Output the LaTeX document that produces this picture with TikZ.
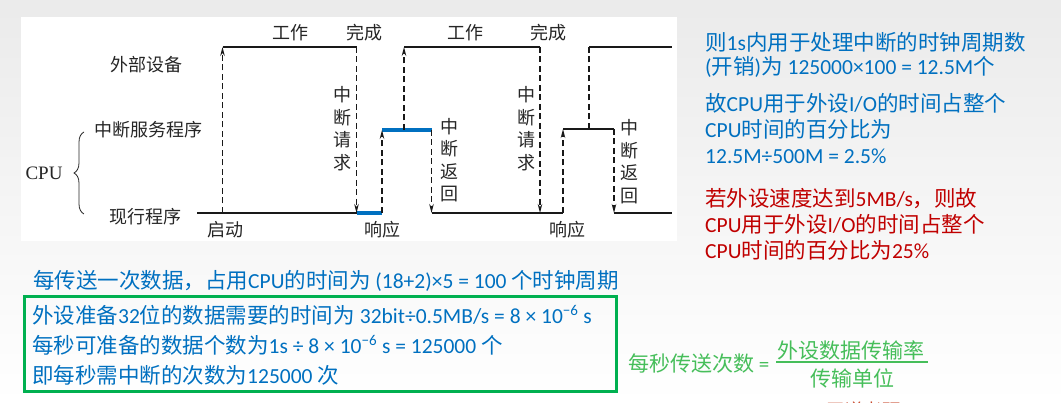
\documentclass[tikz,border=0pt]{standalone}
\usepackage{fontspec}
\setmainfont{Carlito}
\newfontfamily\cjk{Noto Sans CJK SC}
\newfontfamily\tms{Liberation Serif}
\newfontfamily\wmfont{Liberation Sans}
\usetikzlibrary{arrows.meta,decorations.pathreplacing}
\definecolor{slideblue}{RGB}{0,112,192}
\definecolor{slidered}{RGB}{192,0,0}
\definecolor{boxgreen}{RGB}{0,176,80}
\definecolor{fracgreen}{RGB}{70,190,90}
\definecolor{wmred}{RGB}{200,70,40}
\newcommand{\zh}[1]{{\cjk #1}}
\tikzset{
  lbl/.style={inner sep=0pt, font=\cjk\fontsize{18}{22}\selectfont, text=black!85},
  vlbl/.style={lbl, align=center, font=\cjk\fontsize{18}{22.5}\selectfont},
  wave/.style={line width=1.3pt, black!90},
  busy/.style={line width=3.2pt, slideblue},
  jump/.style={line width=1.3pt, black!90, dash pattern=on 6pt off 3.5pt, ->},
  note/.style={inner sep=0pt, anchor=west, align=left, font=\fontsize{21.5}{26}\selectfont},
}
\begin{document}
\begin{tikzpicture}[x=1pt, y=-1pt, >={Stealth[length=9pt,width=4.5pt]}]
	\useasboundingbox (0,0) rectangle (1061,403);
	\fill[top color=black!8, bottom color=white] (0,0) rectangle (1061,403);
	\fill[white] (21,17) rectangle (677,241);
	% timing points
	\coordinate (s0) at (197,213);
	\coordinate (go) at (222.5,213);     \coordinate (goT) at (222.5,47);
	\coordinate (done1) at (356.5,47);   \coordinate (done1B) at (356.5,213);
	\coordinate (ack1) at (382,213);     \coordinate (ack1M) at (382,130);
	\coordinate (start2) at (404,130);   \coordinate (start2T) at (404,47);
	\coordinate (ret1) at (431.5,130);   \coordinate (ret1B) at (431.5,213);
	\coordinate (done2) at (540,47);     \coordinate (done2B) at (540,213);
	\coordinate (ack2) at (563,213);     \coordinate (ack2M) at (563,129);
	\coordinate (start3) at (589,129);   \coordinate (start3T) at (589,47);
	\coordinate (ret2) at (614,129);     \coordinate (ret2B) at (614,213);
	\coordinate (endT) at (672,47);      \coordinate (endB) at (672,213);
	\coordinate (braceB) at (84,214);    \coordinate (braceT) at (84,132);
	% levels
	\draw[wave] (s0) -- (done1B);
	\draw[busy] (done1B) -- (ack1);
	\draw[wave] (ret1B) -- (ack2);
	\draw[wave] (ret2B) -- (endB);
	\draw[wave] (goT) -- (done1);
	\draw[wave] (start2T) -- (done2);
	\draw[wave] (start3T) -- (endT);
	\draw[busy] (ack1M) -- (ret1);
	\draw[wave] (ack2M) -- (ret2);
	% jumps
	\draw[jump] (go) -- (goT);
	\draw[jump] (done1) -- (done1B);
	\draw[jump] (ack1) -- (ack1M);
	\draw[jump] (start2) -- (start2T);
	\draw[jump] (ret1) -- (ret1B);
	\draw[jump] (done2) -- (done2B);
	\draw[jump] (ack2) -- (ack2M);
	\draw[jump, -] (start3) -- (start3T);
	\draw[jump] (ret2) -- (ret2B);
	\draw[decorate, decoration={brace, amplitude=10pt}, line width=0.8pt, black!85] (braceB) -- (braceT);
	% labels
	\node[lbl] (work1) at (290,33) {工作};
	\node[lbl] (fin1) at (364,33) {完成};
	\node[lbl] (work2) at (465,33) {工作};
	\node[lbl] (fin2) at (548,33) {完成};
	\node[lbl] (dev) at (146,65) {外部设备};
	\node[lbl] (isr) at (148,130) {中断服务程序};
	\node[lbl] (prog) at (145,217) {现行程序};
	\node[lbl, font=\tms\fontsize{19}{22}\selectfont] (cpu) at (44,173) {CPU};
	\node[lbl] (boot) at (225,230) {启动};
	\node[lbl] (resp1) at (382,230) {响应};
	\node[lbl] (resp2) at (567,230) {响应};
	\node[vlbl] (req1) at (342,128.5) {中\\断\\请\\求};
	\node[vlbl] (req2) at (526,128.5) {中\\断\\请\\求};
	\node[vlbl] (back1) at (449,160) {中\\断\\返\\回};
	\node[vlbl] (back2) at (629,161.5) {中\\断\\返\\回};
	% notes
	\node[note, text=slideblue, font=\fontsize{21.5}{24}\selectfont] (cost) at (705,55)
		{\zh{则}1s\zh{内用于处理中断的时钟周期数}\\(\zh{开销})\zh{为} 125000×100 = 12.5M\zh{个}};
	\node[note, text=slideblue] (share) at (705,129)
		{\zh{故}CPU\zh{用于外设}I/O\zh{的时间占整个}\\CPU\zh{时间的百分比为}\\12.5M÷500M = 2.5\%};
	\node[note, text=slidered] (fast) at (705,224)
		{\zh{若外设速度达到}5MB/s\zh{，则故}\\CPU\zh{用于外设}I/O\zh{的时间占整个}\\CPU\zh{时间的百分比为}25\%};
	\node[note, text=slideblue] (cycle) at (33,281)
		{\zh{每传送一次数据，占用}CPU\zh{的时间为} (18+2)×5 = 100 \zh{个时钟周期}};
	\node[note, text=slideblue, font=\fontsize{21.5}{30}\selectfont] (calc) at (32,345)
		{\zh{外设准备}32\zh{位的数据需要的时间为} 32bit÷0.5MB/s = 8 × 10\textsuperscript{−6} s\\
		 \zh{每秒可准备的数据个数为}1s ÷ 8 × 10\textsuperscript{−6} s = 125000 \zh{个}\\
		 \zh{即每秒需中断的次数为}125000 \zh{次}};
	\draw[boxgreen, line width=3pt] (24,297) rectangle (616,392);
	% formula
	\node[note, text=fracgreen, font=\fontsize{21}{24}\selectfont] (times) at (628,363) {\zh{每秒传送次数} =};
	\node[inner sep=0pt, text=fracgreen, font=\cjk\fontsize{21}{24}\selectfont] (num) at (851,350) {外设数据传输率};
	\node[inner sep=0pt, text=fracgreen, font=\cjk\fontsize{21}{24}\selectfont] (den) at (852,378) {传输单位};
	\coordinate (barL) at (776,362); \coordinate (barR) at (928,362);
	\draw[fracgreen, line width=1.2pt] (barL) -- (barR);
	\node[inner sep=0pt, text=wmred, font=\wmfont\fontsize{18.5}{20}\selectfont] (mark) at (941,410) {\zh{王道考研}/CSKAOYAN.COM};
\end{tikzpicture}
\end{document}
